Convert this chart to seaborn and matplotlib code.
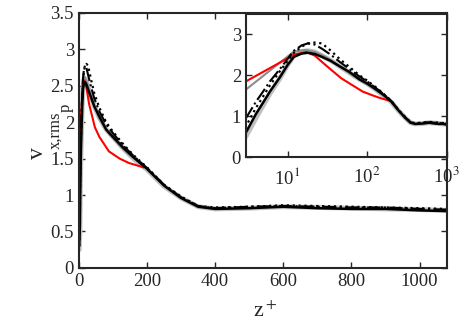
import numpy as np
import seaborn as sns
import matplotlib.pyplot as plt

# wall-normal position and rms profiles
z_plus = [1, 2, 3, 4, 5, 6, 8, 10, 12, 15, 18, 22, 27, 35, 45, 60, 80, 100, 130,
          160, 200, 250, 300, 350, 400, 500, 600, 700, 800, 900, 1000, 1080]

black_solid = [0.30, 0.45, 0.60, 1.05, 1.35, 1.60, 1.95, 2.25, 2.45, 2.53, 2.55, 2.52,
               2.45, 2.35, 2.22, 2.08, 1.90, 1.80, 1.65, 1.52, 1.36,
               1.13, 0.96, 0.84, 0.81, 0.82, 0.84, 0.82, 0.81, 0.81, 0.79, 0.78]
black_dashdot = [0.40, 0.65, 0.95, 1.35, 1.62, 1.85, 2.15, 2.40, 2.60, 2.73, 2.78, 2.75,
                 2.65, 2.50, 2.33, 2.15, 1.97, 1.85, 1.68, 1.54, 1.37,
                 1.14, 0.97, 0.85, 0.82, 0.84, 0.85, 0.84, 0.83, 0.83, 0.81, 0.80]
black_dotted = [0.30, 0.50, 0.75, 1.20, 1.50, 1.75, 2.10, 2.35, 2.55, 2.70, 2.78, 2.80,
                2.78, 2.60, 2.40, 2.20, 2.00, 1.87, 1.70, 1.55, 1.38,
                1.14, 0.98, 0.85, 0.83, 0.84, 0.86, 0.85, 0.84, 0.83, 0.82, 0.81]
gray_thick = [0.25, 0.38, 0.50, 0.95, 1.28, 1.55, 1.92, 2.25, 2.48, 2.58, 2.60, 2.57,
              2.48, 2.36, 2.22, 2.06, 1.90, 1.80, 1.64, 1.50, 1.35,
              1.12, 0.96, 0.84, 0.81, 0.82, 0.84, 0.83, 0.82, 0.81, 0.80, 0.79]

z_short = [3, 12, 17, 22, 30, 47, 60, 88, 120, 147, 190]
red_curve = [1.85, 2.50, 2.57, 2.48, 2.25, 1.93, 1.80, 1.60, 1.50, 1.44, 1.38]
gray_thin = [1.65, 2.58, 2.62, 2.57, 2.45, 2.20, 2.05, 1.84, 1.68, 1.56, 1.40]

sns.set_style("ticks")
plt.rcParams['font.family'] = ['Liberation Serif', 'DejaVu Serif']
plt.rcParams['mathtext.fontset'] = 'stix'
plt.rcParams['xtick.direction'] = 'in'
plt.rcParams['ytick.direction'] = 'in'


def draw_curves(ax):
    sns.lineplot(x=z_plus, y=gray_thick, ax=ax, color='0.75', lw=3.5)
    sns.lineplot(x=z_short, y=gray_thin, ax=ax, color='0.55', lw=1.5)
    sns.lineplot(x=z_short, y=red_curve, ax=ax, color='red', lw=1.5)
    sns.lineplot(x=z_plus, y=black_dotted, ax=ax, color='black', lw=1.6, linestyle=':')
    sns.lineplot(x=z_plus, y=black_dashdot, ax=ax, color='black', lw=1.5, linestyle='-.')
    sns.lineplot(x=z_plus, y=black_solid, ax=ax, color='black', lw=1.8)


fig = plt.figure(figsize=(4.64, 3.32), dpi=100)
ax = fig.add_axes([0.170, 0.193, 0.793, 0.768])
draw_curves(ax)
ax.set_xlim(0, 1080)
ax.set_ylim(0, 3.5)
ax.set_xticks([0, 200, 400, 600, 800, 1000])
ax.set_yticks(np.arange(0, 3.6, 0.5))
ax.set_yticklabels(['0', '0.5', '1', '1.5', '2', '2.5', '3', '3.5'])
ax.tick_params(labelsize=13.5, top=True, right=True, length=4, width=1)
for s in ax.spines.values():
    s.set_linewidth(1.5)
ax.set_xlabel('')
ax.set_ylabel('')

# axis labels placed like the original (MATLAB style offsets)
fig.text(265 / 464, 1 - 312 / 332, r'z$^+$', fontsize=16, ha='center', va='center')
fig.text(38 / 464, 1 - 153 / 332, 'v', fontsize=17, rotation=90, ha='center', va='center')
fig.text(56 / 464, 1 - 130 / 332, 'x,rms', fontsize=12, rotation=90, ha='center', va='center')
fig.text(66 / 464, 1 - 108 / 332, 'p', fontsize=12, rotation=90, ha='center', va='center')

ins = fig.add_axes([0.530, 0.527, 0.433, 0.431])
draw_curves(ins)
ins.set_xscale('log')
ins.set_xlim(3, 1000)
ins.set_ylim(0, 3.5)
ins.set_xticks([10, 100, 1000])
ins.set_xticklabels([r'10$^1$', r'10$^2$', r'10$^3$'])
ins.set_yticks([0, 1, 2, 3])
ins.minorticks_off()
ins.tick_params(labelsize=13.5, top=True, right=True, length=4, width=1)
ins.tick_params(axis='x', pad=7)
for s in ins.spines.values():
    s.set_linewidth(1.5)
ins.set_xlabel('')
ins.set_ylabel('')

fig.savefig('out.png', dpi=100)
